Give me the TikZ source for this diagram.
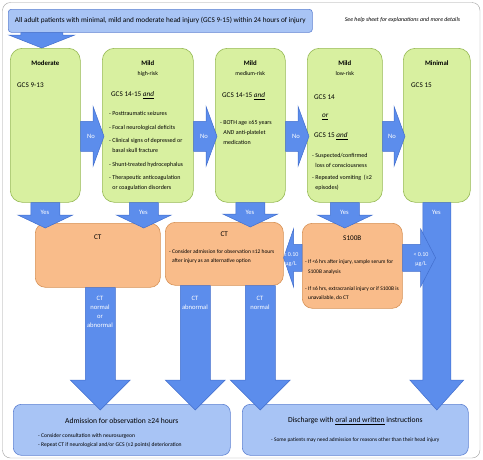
\documentclass[tikz,border=0pt]{standalone}
\usepackage{fontspec}
\setmainfont{Carlito}
\usepackage{tikz}
\usetikzlibrary{positioning, calc}
\definecolor{limefill}{RGB}{216,240,160}
\definecolor{limeline}{RGB}{150,185,85}
\definecolor{peachfill}{RGB}{249,188,138}
\definecolor{peachline}{RGB}{214,145,85}
\definecolor{arrowblue}{RGB}{92,141,236}
\definecolor{arrowline}{RGB}{66,110,205}
\definecolor{paleblue}{RGB}{168,196,245}
\definecolor{paleline}{RGB}{95,130,210}
\definecolor{framegray}{RGB}{160,160,160}

\begin{document}
\begin{tikzpicture}[x=1pt, y=-1pt,
        grade/.style={rectangle, draw=limeline, fill=limefill, semithick, rounded corners=12pt, anchor=north west, minimum width=#1, minimum height=154pt, inner sep=0pt},
        scan/.style 2 args={rectangle, draw=peachline, fill=peachfill, semithick, rounded corners=10pt, anchor=north west, minimum width=#1, minimum height=#2, inner sep=0pt},
        outcome/.style={rectangle, draw=paleline, fill=paleblue, semithick, rounded corners=8pt, anchor=north west, minimum width=#1, minimum height=51pt, inner sep=0pt},
        title/.style={font=\bfseries\fontsize{6.8}{8}\selectfont, inner sep=0pt},
        risk/.style={font=\fontsize{5.8}{7}\selectfont, inner sep=0pt},
        gcs/.style={font=\fontsize{7.2}{8}\selectfont, anchor=west, inner sep=0pt},
        items/.style={font=\fontsize{6}{10}\selectfont, align=left, anchor=north west, inner sep=0pt},
        small/.style={font=\fontsize{5.5}{9}\selectfont, align=left, anchor=north west, inner sep=0pt},
        onarrow/.style={font=\fontsize{6.6}{9}\selectfont, text=white, align=center, inner sep=0pt},
        bigarrow/.style n args={3}{fill=arrowblue, draw=arrowline, line width=0.5pt,
            to path={($(\tikztotarget)!#3!(\tikztostart)$) coordinate (hb)
                ($(\tikztostart)!#1!90:(\tikztotarget)$) -- ($(hb)!#1!90:(\tikztotarget)$)
                -- ($(hb)!#2!90:(\tikztotarget)$) -- (\tikztotarget)
                -- ($(hb)!#2!-90:(\tikztotarget)$) -- ($(hb)!#1!-90:(\tikztotarget)$)
                -- ($(\tikztostart)!#1!-90:(\tikztotarget)$) -- cycle}}
    ]
        \useasboundingbox (0,0) rectangle (483,459);
        \draw[framegray, rounded corners=8pt] (2.5,2.5) rectangle (480,458);

        % Entry
        \node[rectangle, draw=paleline, fill=paleblue, semithick, rounded corners=3pt, anchor=north west, minimum width=304pt, minimum height=23pt, font=\fontsize{7.25}{8}\selectfont] (entry) at (8,9) {All adult patients with minimal, mild and moderate head injury (GCS 9-15) within 24 hours of injury};
        \node[font=\itshape\fontsize{5.9}{6}\selectfont, inner sep=0pt] (helpnote) at (402.5,20) {See help sheet for explanations and more details};

        % Severity groups
        \node[grade=70pt] (moderate) at (10,48) {};
        \node[grade=91pt] (mildhigh) at (102,48) {};
        \node[grade=70pt] (mildmed) at (215,48) {};
        \node[grade=75pt] (mildlow) at (307,48) {};
        \node[grade=67pt] (minimal) at (403,48) {};

        \node[title] (moderatetitle) at (moderate.north |- 0,63) {Moderate};
        \node[title] (mildhightitle) at (mildhigh.north |- 0,63) {Mild};
        \node[title] (mildmedtitle) at (mildmed.north |- 0,63) {Mild};
        \node[title] (mildlowtitle) at (mildlow.north |- 0,63) {Mild};
        \node[title] (minimaltitle) at (minimal.north |- 0,63) {Minimal};
        \node[risk] (highrisk) at (mildhigh.north |- 0,74) {high-risk};
        \node[risk] (medrisk) at (mildmed.north |- 0,74) {medium-risk};
        \node[risk] (lowrisk) at (mildlow.north |- 0,74) {low-risk};

        \node[gcs] (moderategcs) at (17,85) {GCS 9-13};
        \node[gcs] (mildhighgcs) at (111,95) {GCS 14-15 \underline{\textit{and}}};
        \node[gcs] (mildmedgcs) at (222,96) {GCS 14-15 \underline{\textit{and}}};
        \node[gcs] (mildlowgcs) at (314,97) {GCS 14};
        \node[gcs] (mildlowor) at (322,117) {\underline{\textit{or}}};
        \node[gcs] (mildlowgcsb) at (314,136) {GCS 15 \underline{\textit{and}}};
        \node[gcs] (minimalgcs) at (411,85) {GCS 15};

        \node[items] (highitems) at (109,111.5) {- Posttraumatic seizures\\[4pt]- Focal neurological deficits\\[3pt]- Clinical signs of depressed or\\\hphantom{- }basal skull fracture\\[4pt]- Shunt-treated hydrocephalus\\[3pt]- Therapeutic anticoagulation\\\hphantom{- }or coagulation disorders};
        \node[items] (meditems) at (220,120.5) {- BOTH age ≥65 years\\\hphantom{- }\textit{AND} anti-platelet\\\hphantom{- }medication};
        \node[items] (lowitems) at (312,153.5) {- Suspected/confirmed\\\hphantom{- }loss of consciousness\\[2pt]- Repeated vomiting \ (≥2\\\hphantom{- }episodes)};

        % Imaging
        \node[scan={125pt}{64pt}] (ctone) at (35,223) {};
        \node[scan={118pt}{63pt}] (cttwo) at (165,222) {};
        \node[scan={100pt}{85pt}] (sbox) at (302,223) {};
        \node[gcs, anchor=center] (ctonetitle) at (ctone.north |- 0,237) {CT};
        \node[gcs, anchor=center] (cttwotitle) at (cttwo.north |- 0,234) {CT};
        \node[gcs, anchor=center] (sboxtitle) at (sbox.north |- 0,238) {S100B};
        \node[small] (cttwoitems) at (169,249.5) {- Consider admission for observation ≥12 hours\\\hphantom{- }after injury as an alternative option};
        \node[small, font=\fontsize{5.5}{9.5}\selectfont] (sboxitems) at (305,259.5) {- If <6 hrs after injury, sample serum for\\\hphantom{- }S100B analysis\\[7.5pt]- If ≥6 hrs, extracranial injury or if S100B is\\\hphantom{- }unavailable, do CT};

        % Outcomes
        \node[outcome=217pt] (admit) at (13,404) {};
        \node[outcome=226pt] (discharge) at (242,404) {};
        \node[font=\fontsize{7.6}{8}\selectfont, inner sep=0pt] (admittitle) at (admit.north |- 0,421) {Admission for observation ≥24 hours};
        \node[font=\fontsize{7.6}{8}\selectfont, inner sep=0pt] (dischargetitle) at (discharge.north |- 0,421) {Discharge with \underline{oral and written} instructions};
        \node[small, font=\fontsize{5.6}{9}\selectfont] (admititems) at (38,433.5) {- Consider consultation with neurosurgeon\\- Repeat CT if neurological and/or GCS (≥2 points) deterioration};
        \node[small, font=\fontsize{5.4}{9}\selectfont, anchor=center] (dischargeitems) at (discharge.north |- 0,440) {- Some patients may need admission for reasons other than their head injury};

        % Connections
        \draw[bigarrow={21pt}{33pt}{13pt}] ([xshift=-3.5pt]moderate.north |- entry.south) to ([xshift=-3.5pt]moderate.north);

        \draw[bigarrow={15pt}{30pt}{11pt}] ([yshift=-11pt]moderate.east) to ([xshift=2pt,yshift=-11pt]mildhigh.west);
        \draw[bigarrow={15pt}{30pt}{11pt}] ([yshift=-11pt]mildhigh.east) to ([xshift=2pt,yshift=-11pt]mildmed.west);
        \draw[bigarrow={15pt}{30pt}{11pt}] ([yshift=-11pt]mildmed.east) to ([xshift=2pt,yshift=-11pt]mildlow.west);
        \draw[bigarrow={15pt}{30pt}{11pt}] ([yshift=-11pt]mildlow.east) to ([xshift=2pt,yshift=-11pt]minimal.west);

        \draw[bigarrow={14.5pt}{27.5pt}{13pt}] (moderate.south) to ([yshift=-5pt]moderate.south |- ctone.north);
        \draw[bigarrow={14.5pt}{27.5pt}{13pt}] ([xshift=-4pt]mildhigh.south) to ([xshift=-4pt,yshift=-5pt]mildhigh.south |- ctone.north);
        \draw[bigarrow={14.5pt}{27.5pt}{13pt}] (mildmed.south) to ([yshift=-5pt]mildmed.south |- cttwo.north);
        \draw[bigarrow={14.5pt}{27.5pt}{13pt}] (mildlow.south) to ([yshift=-5pt]mildlow.south |- sbox.north);
        \draw[bigarrow={14pt}{27pt}{30pt}] (minimal.south) to ([yshift=-6pt]minimal.south |- discharge.north);

        \draw[bigarrow={15pt}{30pt}{30pt}] ([xshift=2.5pt]ctone.south) to ([xshift=2.5pt,yshift=-6pt]ctone.south |- admit.north);
        \draw[bigarrow={15pt}{30pt}{30pt}] ([xshift=-29pt]cttwo.south) to ([xshift=-29pt,yshift=-6pt]cttwo.south |- admit.north);
        \draw[bigarrow={15pt}{30pt}{30pt}] ([xshift=36pt]cttwo.south) to ([xshift=36pt,yshift=-6pt]cttwo.south |- discharge.north);

        \coordinate (lowlevel) at ([xshift=33pt,yshift=8pt]sbox.east);
        \draw[bigarrow={13.5pt}{29pt}{10pt}] ([yshift=8pt]sbox.west) to ([yshift=8pt]sbox.west -| cttwo.east);
        \draw[bigarrow={13.5pt}{29pt}{15pt}] ([yshift=8pt]sbox.east) to (lowlevel);

        % Arrow labels
        \node[onarrow] (noone) at (91,136) {No};
        \node[onarrow] (notwo) at (204,136) {No};
        \node[onarrow] (nothree) at (296,136) {No};
        \node[onarrow] (nofour) at (392,136) {No};
        \node[onarrow] (yesone) at (45,212) {Yes};
        \node[onarrow] (yestwo) at (143.5,212) {Yes};
        \node[onarrow] (yesthree) at (250,212) {Yes};
        \node[onarrow] (yesfour) at (344.5,212) {Yes};
        \node[onarrow] (yesfive) at (436.5,212) {Yes};
        \node[onarrow] (ctany) at (100,312) {CT\\normal\\or\\abnormal};
        \node[onarrow] (ctabn) at (195,303) {CT\\abnormal};
        \node[onarrow] (ctnorm) at (260,303) {CT\\normal};
        \node[onarrow, font=\fontsize{6}{9}\selectfont] (highlevel) at (291,260) {≥ 0.10\\µg/L};
        \node[onarrow, font=\fontsize{6}{9}\selectfont] (lowlabel) at (421,260) {< 0.10\\µg/L};

    \end{tikzpicture}
\end{document}
